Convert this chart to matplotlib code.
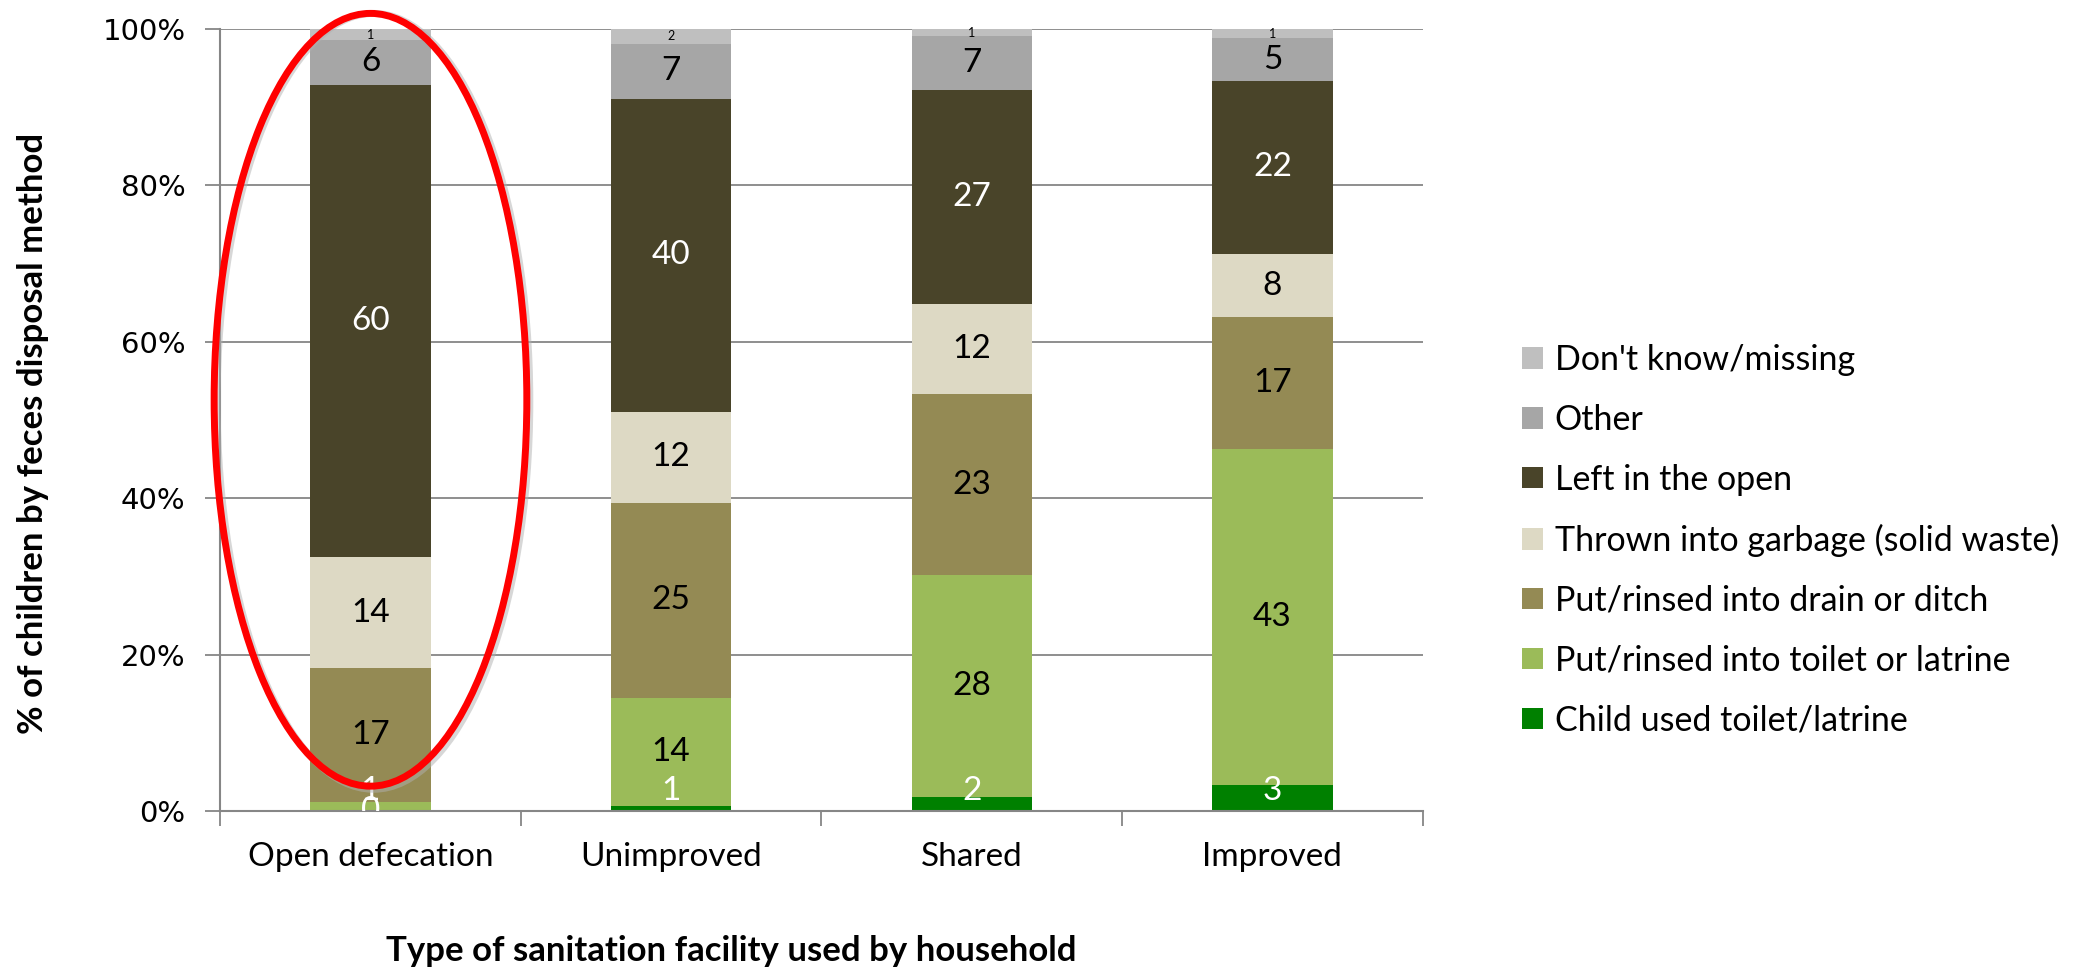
import numpy as np
import matplotlib.pyplot as plt
from matplotlib.patches import Ellipse, Patch

categories = ['Open defecation', 'Unimproved', 'Shared', 'Improved']
series_names = ['Child used toilet/latrine', 'Put/rinsed into toilet or latrine',
                'Put/rinsed into drain or ditch', 'Thrown into garbage (solid waste)',
                'Left in the open', 'Other', "Don't know/missing"]

# percent of children (each bar sums to 100)
child_used = [0.0, 0.6, 1.8, 3.4]
into_toilet = [1.2, 13.9, 28.4, 42.9]
into_drain = [17.1, 24.9, 23.1, 16.9]
into_garbage = [14.2, 11.7, 11.6, 8.0]
left_open = [60.4, 40.0, 27.3, 22.2]
other = [5.7, 7.0, 6.9, 5.4]
dont_know = [1.4, 1.9, 0.9, 1.2]

yticks = [0, 20, 40, 60, 80, 100]
ytick_labels = ['0%', '20%', '40%', '60%', '80%', '100%']

series = [child_used, into_toilet, into_drain, into_garbage, left_open, other, dont_know]
colors = ['#008000', '#9BBB59', '#948A54', '#DDD9C4', '#494429', '#A6A6A6', '#BFBFBF']
label_colors = ['white', 'black', 'black', 'black', 'white', 'black', 'black']
label_sizes = [24, 24, 24, 24, 24, 24, 9]

plt.rcParams['font.family'] = ['Lato', 'DejaVu Sans']

fig = plt.figure(figsize=(20.77, 9.68), dpi=100)
ax = fig.add_axes([0.106, 0.162, 0.579, 0.808])

x = np.arange(len(categories))
bottom = np.zeros(len(categories))
for vals, col, lcol, lsize in zip(series, colors, label_colors, label_sizes):
    vals = np.array(vals)
    ax.bar(x, vals, width=0.4, bottom=bottom, color=col, zorder=2)
    for xi, b, v in zip(x, bottom, vals):
        c = b + v / 2
        if round(v) == 0:
            # zero label sits on the axis, half hidden
            ax.text(xi, c, '%.0f' % v, ha='center', va='center', color='white',
                    fontsize=lsize, zorder=3, clip_on=True)
        elif c < 2.4:
            ax.text(xi, 2.6, '%.0f' % v, ha='center', va='center', color='white',
                    fontsize=lsize, zorder=3)
        else:
            ax.text(xi, c, '%.0f' % v, ha='center', va='center', color=lcol,
                    fontsize=lsize, zorder=3)
    bottom = bottom + vals

ax.set_xlim(-0.5, len(categories) - 0.5)
ax.set_ylim(0, 100)

ax.set_yticks(yticks)
ax.set_yticklabels(ytick_labels, family='DejaVu Sans', fontsize=21)
ax.tick_params(axis='y', length=11, width=1.3, color='#868686', pad=14)

ax.set_xticks(np.arange(len(categories) + 1) - 0.5)
ax.set_xticklabels([])
ax.set_xticks(x, minor=True)
ax.set_xticklabels(categories, minor=True, fontsize=24)
ax.tick_params(axis='x', which='major', length=11, width=1.3, color='#868686')
ax.tick_params(axis='x', which='minor', length=0, pad=22)

ax.yaxis.grid(True, color='#868686', lw=1.3, zorder=0)
ax.set_axisbelow(True)
for s in ['top', 'right']:
    ax.spines[s].set_visible(False)
for s in ['left', 'bottom']:
    ax.spines[s].set_color('#868686')
    ax.spines[s].set_linewidth(1.5)

# red ring around the open defecation bar
ax.add_patch(Ellipse((0.01, 52.4), 1.04, 99.2, fill=False, edgecolor='#B0B0B0',
                     lw=5, alpha=0.5, clip_on=False, zorder=4))
ax.add_patch(Ellipse((0, 52.6), 1.04, 98.8, fill=False, edgecolor='#FF0000',
                     lw=5, clip_on=False, zorder=5))

fig.text(0.016, 0.552, '% of children by feces disposal method', rotation=90,
         ha='center', va='center', fontsize=25, fontweight='bold')
fig.text(0.352, 0.0176, 'Type of sanitation facility used by household',
         ha='center', va='center', fontsize=25, fontweight='bold')

handles = [Patch(facecolor=c) for c in colors][::-1]
fig.legend(handles, series_names[::-1], loc='center left', bbox_to_anchor=(0.733, 0.442),
           frameon=False, fontsize=24.5, handlelength=0.6, handleheight=0.6,
           handletextpad=0.35, labelspacing=0.82, borderpad=0, borderaxespad=0)

fig.savefig('out.png', dpi=100)
